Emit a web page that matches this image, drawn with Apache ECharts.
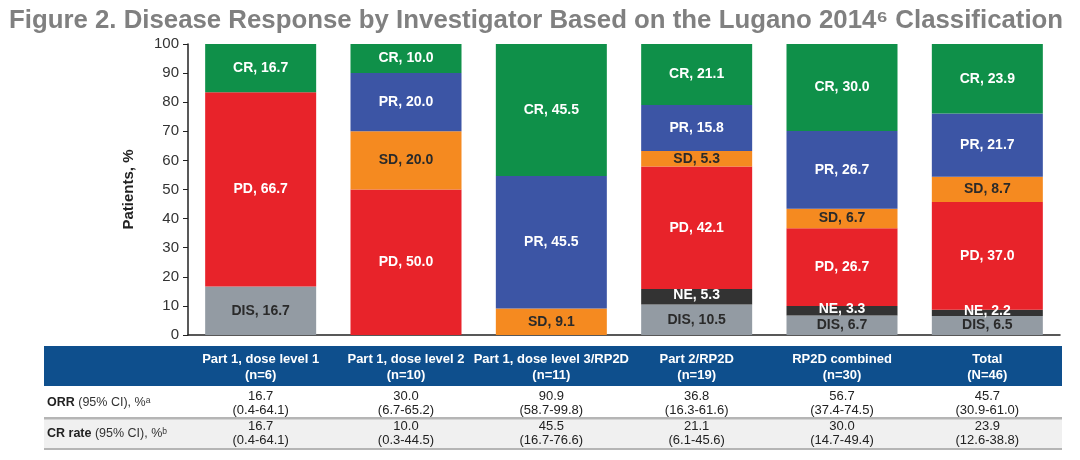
<!DOCTYPE html>
<html><head><meta charset="utf-8">
<script src="https://cdn.jsdelivr.net/npm/echarts@6/dist/echarts.min.js"></script>
<style>html,body{margin:0;padding:0;background:#fff}#c{width:1080px;height:460px}</style>
</head><body><div id="c"></div>
<script>
const categories = ['Part 1, dose level 1\n(n=6)','Part 1, dose level 2\n(n=10)','Part 1, dose level 3/RP2D\n(n=11)','Part 2/RP2D\n(n=19)','RP2D combined\n(n=30)','Total\n(N=46)'];
const DIS = [16.7, null, null, 10.5, 6.7, 6.5];
const NE  = [null, null, null, 5.3, 3.3, 2.2];
const PD  = [66.7, 50.0, null, 42.1, 26.7, 37.0];
const SD  = [null, 20.0, 9.1, 5.3, 6.7, 8.7];
const PR  = [null, 20.0, 45.5, 15.8, 26.7, 21.7];
const CR  = [16.7, 10.0, 45.5, 21.1, 30.0, 23.9];
const orrVal = ['16.7','30.0','90.9','36.8','56.7','45.7'];
const orrCI  = ['(0.4-64.1)','(6.7-65.2)','(58.7-99.8)','(16.3-61.6)','(37.4-74.5)','(30.9-61.0)'];
const crVal  = ['16.7','10.0','45.5','21.1','30.0','23.9'];
const crCI   = ['(0.4-64.1)','(0.3-44.5)','(16.7-76.6)','(6.1-45.6)','(14.7-49.4)','(12.6-38.8)'];
const yTicks = [0,10,20,30,40,50,60,70,80,90,100];

const FONT = '"Liberation Sans", Arial, sans-serif';
const chart = echarts.init(document.getElementById('c'), null, {renderer:'canvas'});

function lbl(txt, extra) {
  return Object.assign({show:true, position:'inside', color:txt, fontSize:14, fontWeight:'bold', fontFamily:FONT,
      formatter:p => (p.value==null ? '' : p.seriesName + ', ' + Number(p.value).toFixed(1))}, extra||{});
}
function mk(name, data, color, txt, lblExtra) {
  return { name, type:'bar', stack:'all', data, barWidth:111,
    itemStyle:{color}, label:lbl(txt, lblExtra) };
}

chart.setOption({
  animation:false,
  title:{ text:'Figure 2. Disease Response by Investigator Based on the Lugano 2014\u2076 Classification',
    left:4, top:3, textStyle:{fontSize:25.8, fontWeight:'bold', color:'#808080', fontFamily:FONT}},
  grid:{left:188, right:20, top:44, bottom:125, containLabel:false},
  xAxis:{type:'category', data:categories,
    axisLine:{lineStyle:{color:'#222', width:1.5}}, axisTick:{show:false},
    axisLabel:{color:'#fff', fontWeight:'bold', fontSize:13, fontFamily:FONT, margin:16, lineHeight:16, interval:0}},
  yAxis:{type:'value', min:0, max:100, interval:10,
    name:'Patients, %', nameLocation:'middle', nameGap:52, nameRotate:90,
    nameTextStyle:{fontSize:15, fontWeight:'bold', color:'#222', fontFamily:FONT},
    axisLine:{show:true, lineStyle:{color:'#222', width:1.5}},
    axisTick:{show:true, length:5, lineStyle:{color:'#222'}},
    splitLine:{show:false},
    axisLabel:{color:'#333', fontSize:15, fontFamily:FONT, margin:9,
      formatter:v => yTicks.indexOf(v)>=0 ? String(v) : ''}},
  series:[
    mk('DIS', DIS, '#939ba3', '#2a2a2a'),
    mk('NE', NE, '#333333', '#ffffff', {offset:[0,-2]}),
    mk('PD', PD, '#e8232a', '#ffffff'),
    mk('SD', SD, '#f58a20', '#2a2a2a'),
    mk('PR', PR, '#3c55a5', '#ffffff'),
    mk('CR', CR, '#0f9049', '#ffffff')
  ]
});

// table below
const g = [];
g.push({type:'rect', z:-1, shape:{x:44, y:346, width:1018, height:40}, style:{fill:'#0e4f8d'}});
g.push({type:'rect', z:-1, shape:{x:44, y:419, width:1018, height:29}, style:{fill:'#f0f0f0'}});
g.push({type:'rect', z:1, shape:{x:44, y:417, width:1018, height:2.5}, style:{fill:'#b5b5b5'}});
g.push({type:'rect', z:1, shape:{x:44, y:448, width:1018, height:2}, style:{fill:'#b5b5b5'}});
g.push({type:'text', x:47, y:403, style:{text:'{b|ORR} (95% CI), %\u1d43', fill:'#333', font:'12.5px '+FONT, verticalAlign:'middle',
  rich:{b:{fontWeight:'bold', fontSize:12.5, fontFamily:FONT, fill:'#222'}}}});
g.push({type:'text', x:47, y:434, style:{text:'{b|CR rate} (95% CI), %\u1d47', fill:'#333', font:'12.5px '+FONT, verticalAlign:'middle',
  rich:{b:{fontWeight:'bold', fontSize:12.5, fontFamily:FONT, fill:'#222'}}}});
categories.forEach((c,i) => {
  let px = chart.convertToPixel({xAxisIndex:0}, i);
  const x = Array.isArray(px) ? px[0] : px;
  g.push({type:'text', x, y:403, style:{text:orrVal[i]+'\n'+orrCI[i], fill:'#222', font:'13px '+FONT, align:'center', verticalAlign:'middle', lineHeight:14}});
  g.push({type:'text', x, y:433.5, style:{text:crVal[i]+'\n'+crCI[i], fill:'#222', font:'13px '+FONT, align:'center', verticalAlign:'middle', lineHeight:14}});
});
chart.setOption({graphic:g});
</script></body></html>
